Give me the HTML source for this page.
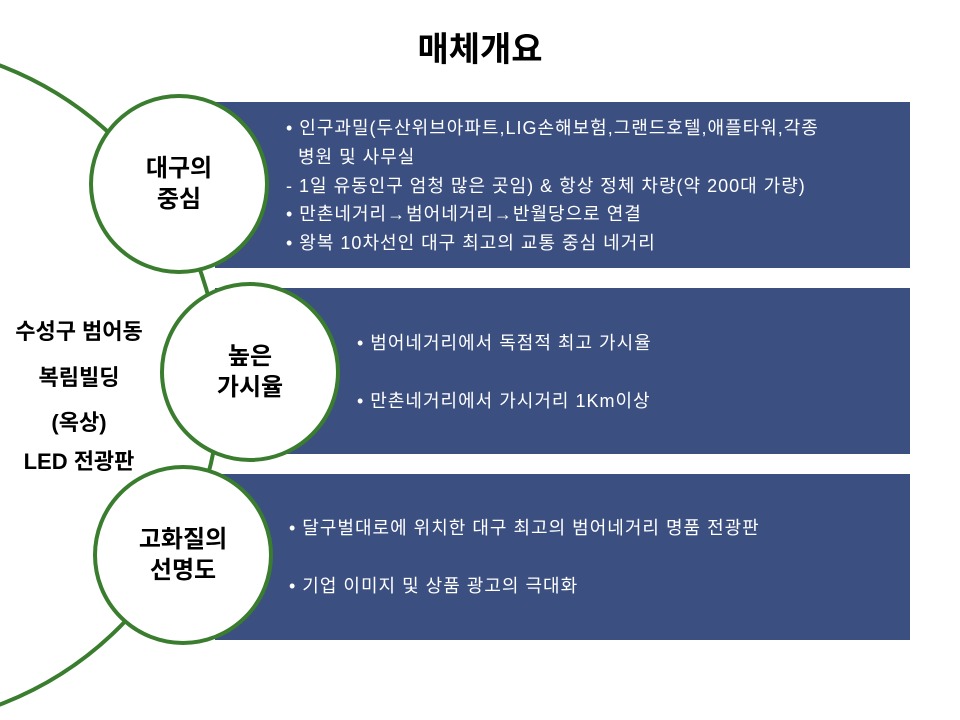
<!DOCTYPE html>
<html><head><meta charset="utf-8"><style>
body{margin:0;width:960px;height:720px;background:#fff;position:relative;overflow:hidden;font-family:"Liberation Sans","Noto Sans CJK KR",sans-serif}
.a{position:absolute}
.rect{position:absolute;background:#3B4F81;left:215px;width:695px;height:166px}
.t{position:absolute;color:#fff;font-size:18px;letter-spacing:1px;white-space:nowrap}
.c{position:absolute;width:172px;height:172px;border:4px solid #3A7D2F;border-radius:50%;background:#fff;display:flex;align-items:center;justify-content:center;text-align:center;font-weight:bold;font-size:24px;line-height:31px;color:#000}
.l{position:absolute;left:0;width:158px;text-align:center;font-weight:bold;font-size:22px}
</style></head><body>
<div class="a" style="left:0;top:22px;width:960px;text-align:center;font-size:34px;font-weight:bold">매체개요</div>
<svg class="a" style="left:0;top:0" width="960" height="720"><circle cx="-122" cy="385" r="342" fill="none" stroke="#3A7D2F" stroke-width="4"/></svg>
<div class="rect" style="top:102px"></div>
<div class="rect" style="top:288px"></div>
<div class="rect" style="top:474px"></div>
<div class="t" style="left:286px;top:114px;line-height:28.8px">• 인구과밀(두산위브아파트,LIG손해보험,그랜드호텔,애플타워,각종<br>&nbsp;&nbsp;병원 및 사무실<br>- 1일 유동인구 엄청 많은 곳임) &amp; 항상 정체 차량(약 200대 가량)<br>• 만촌네거리→범어네거리→반월당으로 연결<br>• 왕복 10차선인 대구 최고의 교통 중심 네거리</div>
<div class="t" style="left:357px;top:329px">• 범어네거리에서 독점적 최고 가시율</div>
<div class="t" style="left:357px;top:387px">• 만촌네거리에서 가시거리 1Km이상</div>
<div class="t" style="left:289px;top:514px">• 달구벌대로에 위치한 대구 최고의 범어네거리 명품 전광판</div>
<div class="t" style="left:289px;top:572px">• 기업 이미지 및 상품 광고의 극대화</div>
<div class="c" style="left:89px;top:94px">대구의<br>중심</div>
<div class="c" style="left:160px;top:282px">높은<br>가시율</div>
<div class="c" style="left:93px;top:465px">고화질의<br>선명도</div>
<div class="l" style="top:314px">수성구 범어동</div>
<div class="l" style="top:360px">복림빌딩</div>
<div class="l" style="top:405px">(옥상)</div>
<div class="l" style="top:444px">LED 전광판</div>
</body></html>
